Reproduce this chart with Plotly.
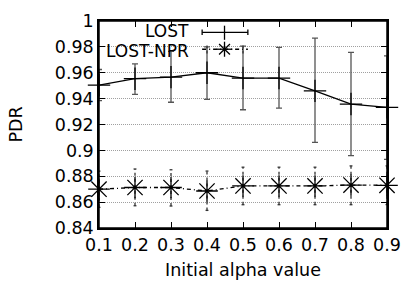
import plotly.graph_objects as go

alpha = [0.1, 0.2, 0.3, 0.4, 0.5, 0.6, 0.7, 0.8, 0.9]
lost = [0.9505, 0.9554, 0.9566, 0.9600, 0.9559, 0.9559, 0.9460, 0.9358, 0.9333]
lost_hi = [0.9625, 0.9668, 0.9765, 0.9800, 0.9806, 0.9796, 0.9867, 0.9758, 0.9730]
lost_lo = [0.9385, 0.9433, 0.9372, 0.9394, 0.9314, 0.9326, 0.9062, 0.8960, 0.8930]
npr = [0.8700, 0.8713, 0.8713, 0.8686, 0.8725, 0.8725, 0.8725, 0.8732, 0.8730]
npr_hi = [0.8840, 0.8856, 0.8850, 0.8840, 0.8870, 0.8870, 0.8870, 0.8880, 0.8880]
npr_lo = [0.8560, 0.8572, 0.8570, 0.8536, 0.8580, 0.8580, 0.8580, 0.8580, 0.8580]
yticks = [0.84, 0.86, 0.88, 0.9, 0.92, 0.94, 0.96, 0.98, 1]
ytick_text = ["0.84", "0.86", "0.88", "0.9", "0.92", "0.94", "0.96", "0.98", "1"]
xtick_text = ["0.1", "0.2", "0.3", "0.4", "0.5", "0.6", "0.7", "0.8", "0.9"]

FONT = "DejaVu Sans"
FS = 17.5
LEG_FS = 17

FIG_W, FIG_H = 412, 288
L, T, W, H = 99, 11, 296, 220

fig = go.Figure()

fig.add_trace(go.Scatter(
    x=alpha, y=lost, mode="lines+markers", name="LOST",
    line=dict(color="black", width=1.3),
    marker=dict(symbol="cross-thin", size=16, line=dict(color="black", width=1.3)),
    error_y=dict(type="data", symmetric=False,
                 array=[h - v for h, v in zip(lost_hi, lost)],
                 arrayminus=[v - l for v, l in zip(lost, lost_lo)],
                 color="#555555", thickness=1.3, width=3),
    showlegend=False, cliponaxis=False,
))

ex, ey = [], []
for xv, lo, hi in zip(alpha, npr_lo, npr_hi):
    ex += [xv, xv, None]
    ey += [lo, hi, None]
fig.add_trace(go.Scatter(x=ex, y=ey, mode="lines",
                         line=dict(color="#333333", width=1.3, dash="3px,3px"),
                         showlegend=False, hoverinfo="skip"))
cx, cy = [], []
d = 0.004
for xv, lo, hi in zip(alpha, npr_lo, npr_hi):
    cx += [xv - d, xv + d, None, xv - d, xv + d, None]
    cy += [lo, lo, None, hi, hi, None]
fig.add_trace(go.Scatter(x=cx, y=cy, mode="lines",
                         line=dict(color="#333333", width=1.3),
                         showlegend=False, hoverinfo="skip"))

fig.add_trace(go.Scatter(
    x=alpha, y=npr, mode="lines+markers", name="LOST-NPR",
    line=dict(color="black", width=1.3, dash="4px,3px,1px,3px"),
    marker=dict(symbol="asterisk-open", size=18, line=dict(color="black", width=1.3)),
    showlegend=False, cliponaxis=False,
))

# legend drawn gnuplot-style (text then sample), in pixel coordinates
def px(x):
    return (x - L) / W
def py(y):
    return (T + H - y) / H

shapes = [
    dict(type="rect", xref="paper", yref="paper", x0=0, x1=px(258), y0=py(50), y1=1,
         fillcolor="white", line=dict(width=0), layer="below"),
    # plot frame
    dict(type="rect", xref="paper", yref="paper", x0=0, x1=1, y0=0, y1=1,
         line=dict(color="black", width=1.5), layer="above"),
    dict(type="line", xref="paper", yref="paper", x0=px(205), x1=px(252), y0=py(23), y1=py(23),
         line=dict(color="black", width=1.3)),
    dict(type="line", xref="paper", yref="paper", x0=px(228), x1=px(228), y0=py(16), y1=py(31),
         line=dict(color="black", width=1.3)),
    dict(type="line", xref="paper", yref="paper", x0=px(205), x1=px(205), y0=py(20), y1=py(26),
         line=dict(color="black", width=1.3)),
    dict(type="line", xref="paper", yref="paper", x0=px(252), x1=px(252), y0=py(20), y1=py(26),
         line=dict(color="black", width=1.3)),
    dict(type="line", xref="paper", yref="paper", x0=px(205), x1=px(252), y0=py(41), y1=py(41),
         line=dict(color="black", width=1.3, dash="4px,3px,1px,3px")),
    dict(type="line", xref="paper", yref="paper", x0=px(210), x1=px(210), y0=py(37), y1=py(46),
         line=dict(color="#333333", width=1.3, dash="3px,2px")),
    dict(type="line", xref="paper", yref="paper", x0=px(247), x1=px(247), y0=py(37), y1=py(46),
         line=dict(color="#333333", width=1.3, dash="3px,2px")),
]
cxp, cyp, r = 228, 41, 8
for dx, dy in [(r, 0), (0, r), (r * 0.7, r * 0.7), (r * 0.7, -r * 0.7)]:
    shapes.append(dict(type="line", xref="paper", yref="paper",
                       x0=px(cxp - dx), x1=px(cxp + dx), y0=py(cyp - dy), y1=py(cyp + dy),
                       line=dict(color="black", width=1.3)))

annotations = [
    dict(text="LOST", xref="paper", yref="paper", x=px(194), y=py(22), xanchor="right",
         yanchor="middle", showarrow=False, font=dict(family=FONT, size=LEG_FS, color="black")),
    dict(text="LOST-NPR", xref="paper", yref="paper", x=px(194), y=py(43), xanchor="right",
         yanchor="middle", showarrow=False, font=dict(family=FONT, size=LEG_FS, color="black")),
]

fig.update_layout(
    width=FIG_W, height=FIG_H,
    margin=dict(l=L, r=FIG_W - L - W, t=T, b=FIG_H - T - H),
    paper_bgcolor="white", plot_bgcolor="white",
    font=dict(family=FONT, size=FS, color="black"),
    shapes=shapes, annotations=annotations,
    xaxis=dict(range=[0.1, 0.9], tickvals=alpha, ticktext=xtick_text,
               showgrid=False, zeroline=False, ticks="inside", ticklen=6,
               tickcolor="black", showline=True, linecolor="black", linewidth=1.5,
               mirror="ticks",
               title=dict(text="Initial alpha value", standoff=10,
                          font=dict(family=FONT, size=FS))),
    yaxis=dict(range=[0.84, 1.0], tickvals=yticks, ticktext=ytick_text,
               showgrid=True, gridcolor="#a0a0a0", griddash="1px,1px", gridwidth=1,
               zeroline=False, ticks="inside", ticklen=6, tickcolor="black",
               showline=True, linecolor="black", linewidth=1.5, mirror="ticks",
               title=dict(text="PDR", standoff=28, font=dict(family=FONT, size=FS))),
)

fig.write_html(
    "out.html",
    config={"displayModeBar": False},
    post_script="document.body.style.margin='0';document.documentElement.style.overflow='hidden';",
)
